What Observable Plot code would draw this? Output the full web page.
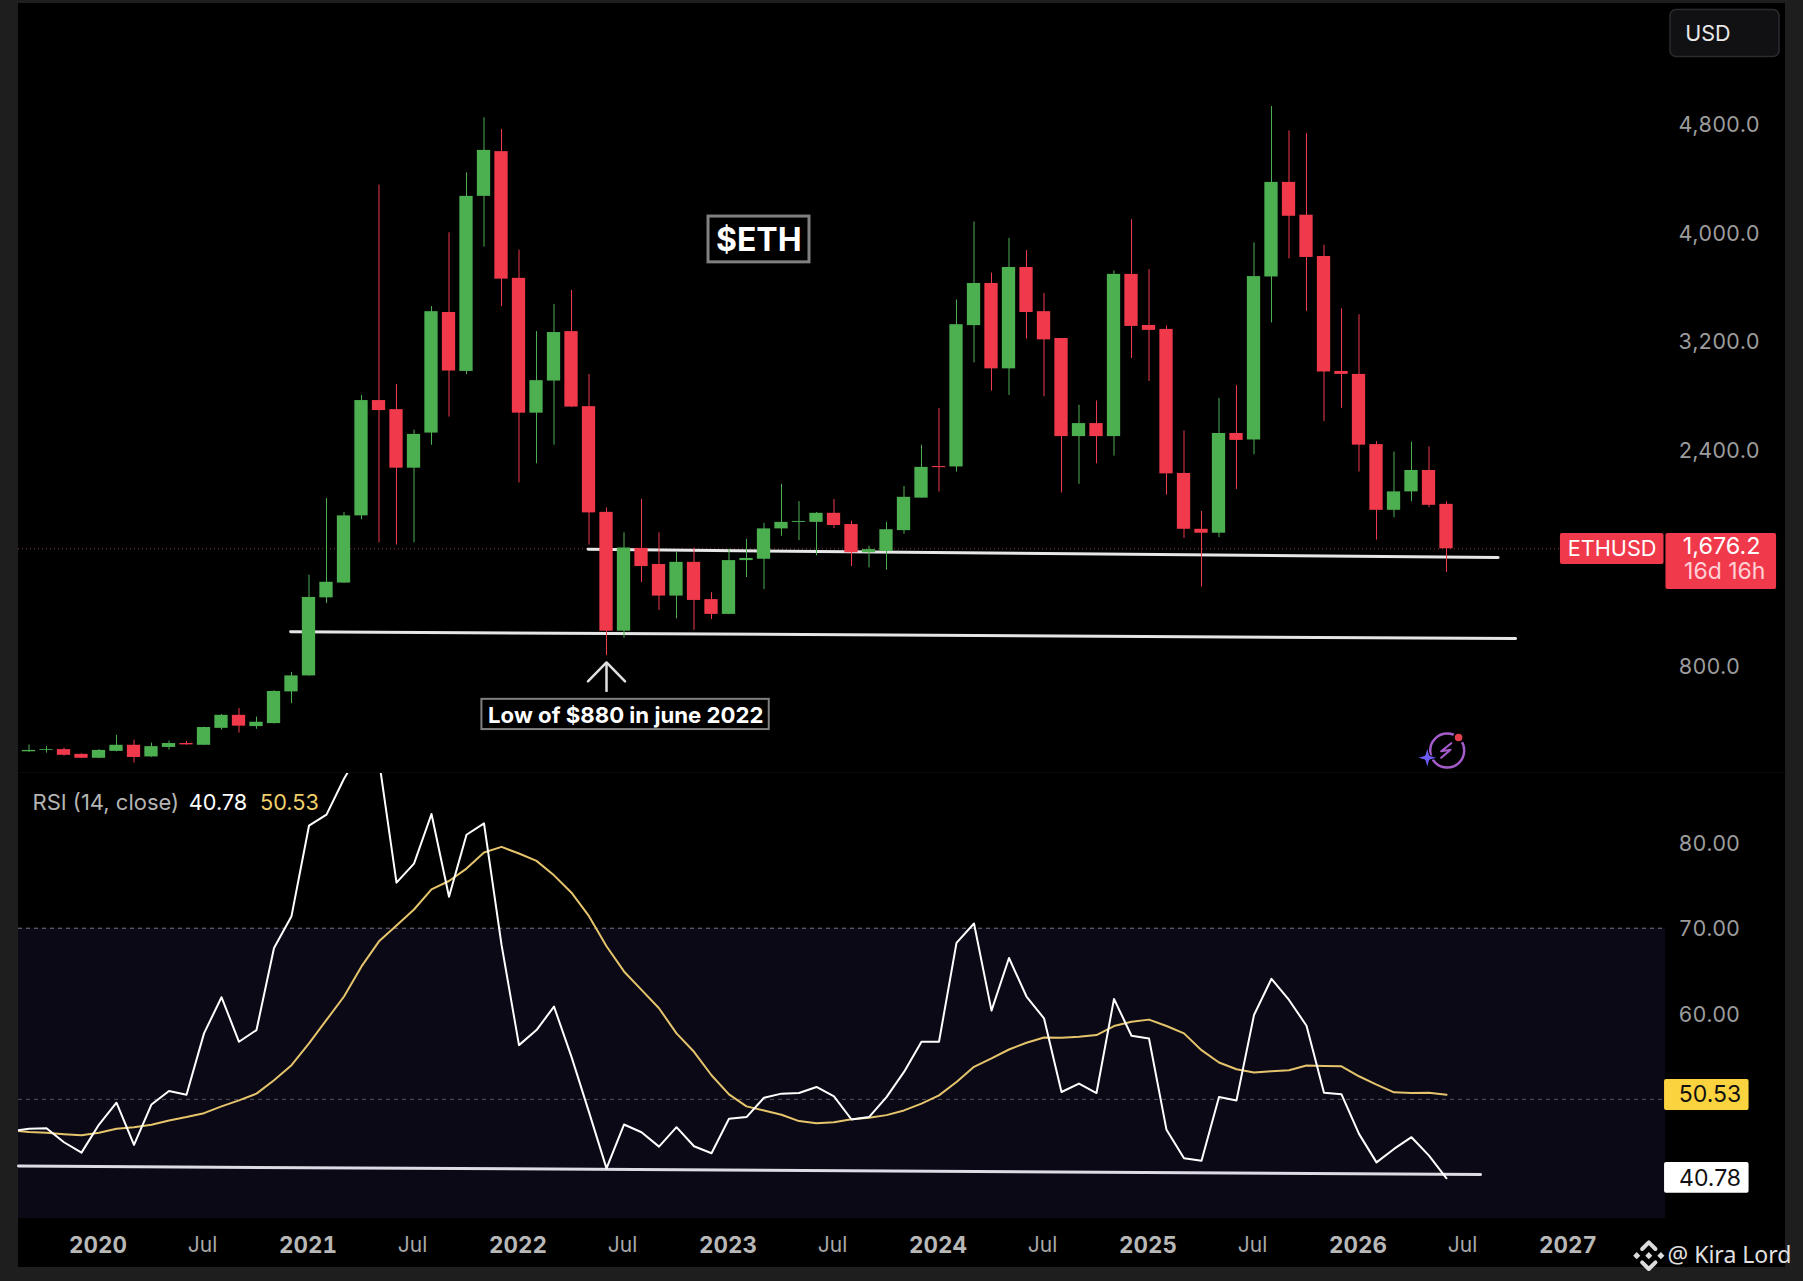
<!DOCTYPE html>
<html><head><meta charset="utf-8">
<style>
html,body{margin:0;padding:0;background:#1e1e1e;overflow:hidden;width:1803px;height:1281px}
#wrap{position:relative;width:1803px;height:1281px}
#inner{position:absolute;left:18px;top:3px;width:1767px;height:1264px;background:#000}
#plots{position:absolute;left:0;top:0;width:1803px}
#plots svg{display:block}
</style>
<script src="https://cdn.jsdelivr.net/npm/d3@7"></script>
<script src="https://cdn.jsdelivr.net/npm/@observablehq/plot@0.6"></script>
</head><body>
<div id="wrap"><div id="inner"></div><div id="plots"></div></div>
<script>
// Months are counted from Jan 2020 = 0; candles run Sep 2019 (-4) .. Jun 2026 (77)
const firstMonth = -4;
const open = [178,188,194,159,
 130,181,226,140,210,239,226,351,447,364,386,620,
 738,1314,1423,1919,2770,2703,2271,2530,3420,2985,4277,4607,
 3672,2677,2914,3279,2725,1945,1068,1679,1560,1327,1576,1301,
 1192,1589,1599,1823,1871,1871,1938,1855,1647,1656,1810,2050,
 2283,2280,3323,3634,3004,3752,3426,3228,2504,2600,2504,3701,
 3324,3295,2232,1820,1791,2527,2479,3682,4380,4138,3833,2985,
 2963,2445,1960,2096,2254,2004];
const close = [188,194,152,130,
 188,226,136,216,239,229,357,447,367,396,623,738,
 1317,1429,1919,2770,2696,2271,2520,3426,2988,4277,4616,3666,
 2677,2917,3272,2722,1941,1068,1682,1545,1327,1576,1295,1192,
 1589,1605,1823,1871,1878,1938,1848,1647,1670,1817,2056,2277,
 2275,3330,3634,3004,3752,3420,3218,2504,2600,2504,3701,3317,
 3288,2229,1820,1791,2527,2476,3685,4380,4130,3826,2981,2963,
 2441,1960,2096,2254,1997,1676];
const high = [229,216,204,162,
 194,300,264,242,258,255,360,453,498,434,629,764,
 1481,2047,1945,2808,4360,2888,2552,3464,4008,4450,4856,4770,
 3880,3279,3480,3583,2962,1977,1794,2040,1794,1650,1682,1352,
 1672,1746,1864,2152,2024,1944,2040,1880,1695,1871,2136,2440,
 2712,3512,4088,3711,3967,3877,3560,3228,2735,2767,3727,4104,
 3736,3320,2546,1951,2786,2880,3934,4940,4760,4740,3917,3447,
 3403,2467,2390,2463,2427,2023];
const low = [172,168,146,128,
 127,178,95,136,191,226,224,338,316,344,383,533,
 736,1272,1420,1890,1720,1704,1720,2440,2648,2962,3903,3464,
 2162,2303,2440,2719,1704,888,1016,1426,1221,1160,1074,1154,
 1190,1464,1375,1768,1736,1624,1826,1545,1535,1519,1784,2050,
 2095,2242,3048,2840,2808,3224,2798,2088,2152,2303,2360,3080,
 2911,2072,1752,1394,1759,2114,2370,3343,3816,3429,2614,2713,
 2243,1740,1905,2023,1979,1501];
// RSI series start one month earlier (-5)
const rsiFirstMonth = -5;
const rsi = [46.28,46.56,46.63,44.99,43.78,
 47.06,49.61,44.68,49.41,50.98,50.55,57.71,61.94,56.73,58.10,67.69,71.41,
 81.98,83.27,87.46,90.98,89.61,75.32,77.55,83.35,73.68,80.92,82.25,68.08,
 56.34,58.10,60.84,54.97,48.51,41.94,47.06,46.16,44.48,46.75,44.52,43.70,
 47.73,47.93,50.20,50.67,50.74,51.45,50.35,47.65,47.93,50.27,53.21,56.73,
 56.73,68.28,70.55,60.37,66.52,62.02,59.47,50.86,51.84,50.74,61.74,57.44,
 57.12,46.44,43.11,42.84,50.27,49.88,59.86,64.09,61.62,58.61,50.78,50.59,
 45.97,42.64,44.21,45.58,43.43,40.78];
const rsiMA = [46.36,46.2,46.09,45.93,45.81,
 46.09,46.56,46.75,47.03,47.53,47.93,48.39,49.18,49.88,50.67,52.23,54.0,
 56.54,59.28,62.02,65.54,68.47,70.31,72.19,74.54,75.52,76.97,78.85,79.51,
 78.73,77.87,76.18,74.15,71.41,67.89,64.95,62.80,60.65,57.71,55.56,52.82,
 50.59,49.18,48.71,48.20,47.46,47.22,47.34,47.69,47.85,48.16,48.71,49.50,
 50.47,52.04,53.80,54.78,55.83,56.62,57.24,57.20,57.32,57.51,58.57,59.08,
 59.32,58.57,57.71,55.75,54.31,53.52,53.13,53.29,53.40,53.95,53.91,53.87,
 52.70,51.72,50.82,50.74,50.78,50.53];
const priceTicks = [800,2400,3200,4000,4800];
const rsiTicks = [60,70,80];
const yearTicks = [0,12,24,36,48,60,72,84];
const yearLabels = ["2020","2021","2022","2023","2024","2025","2026","2027"];
const julTicks = [6,18,30,42,54,66,78];
const priceTrend = [{m:10.95,v:1064},{m:80.95,v:1014}];
const priceTrend2 = [{m:27.95,v:1672},{m:79.95,v:1611}];
const rsiTrend = [{m:-4.6,v:42.21},{m:78.95,v:41.23}];

const GREEN="#4caf50", RED="#f03a4c", FONT="Inter, 'Liberation Sans', sans-serif";
const XDOM=[-4.6,89.514], WIDTH=1803;
const candles = open.map((o,i)=>({m:firstMonth+i,o,c:close[i],h:high[i],l:low[i],col:close[i]>=o?GREEN:RED}));
const rsiRows = rsi.map((v,i)=>({m:rsiFirstMonth+i,v}));
const maRows = rsiMA.map((v,i)=>({m:rsiFirstMonth+i,v}));
const box = (x1,x2,y1,y2,o)=>Plot.rect([{x1,x2,y1,y2}],{x1:"x1",x2:"x2",y1:"y1",y2:"y2",...o});
const txt = (m,v,t,o)=>Plot.text([{m,v,t}],{x:"m",y:"v",text:"t",fontFamily:FONT,...o});
const sparkle = {draw(c,size){const R=Math.sqrt(size/Math.PI),k=R*0.22;
  c.moveTo(0,-R);c.lineTo(k,-k);c.lineTo(R,0);c.lineTo(k,k);c.lineTo(0,R);c.lineTo(-k,k);c.lineTo(-R,0);c.lineTo(-k,-k);c.closePath();}};

const main = Plot.plot({
  width:WIDTH,height:773,marginLeft:18,marginRight:138,marginTop:4,marginBottom:1,
  style:{background:"transparent",fontFamily:FONT},
  x:{type:"linear",domain:XDOM,axis:null},
  y:{type:"linear",domain:[25.1,5692.9],axis:null},
  marks:[
    Plot.ruleY([1676.2],{stroke:"#8a3a40",strokeWidth:1,strokeDasharray:"1,3"}),
    Plot.line(priceTrend,{x:"m",y:"v",stroke:"#e6e6e6",strokeWidth:3}),
    Plot.line(priceTrend2,{x:"m",y:"v",stroke:"#e6e6e6",strokeWidth:3}),
    Plot.ruleX(candles,{x:"m",y1:"l",y2:"h",stroke:"col",strokeWidth:1}),
    Plot.rect(candles,{x1:d=>d.m-0.38,x2:d=>d.m+0.38,y1:"o",y2:"c",fill:"col"}),
    Plot.axisY({anchor:"right",ticks:priceTicks,tickFormat:d3.format(",.1f"),tickSize:0,tickPadding:13,fontSize:21.5,color:"#9c9c9c",label:null}),
    // $ETH label
    box(34.83,40.6,3790,4128,{fill:"#000",stroke:"#808080",strokeWidth:3}),
    txt(37.7,3950,"$ETH",{fill:"#fff",fontSize:32,fontWeight:"bold"}),
    // low annotation
    Plot.ruleX([{m:29.0,a:616,b:837}],{x:"m",y1:"a",y2:"b",stroke:"#e0e0e0",strokeWidth:2.5}),
    Plot.line([{m:27.94,v:697},{m:29.0,v:837},{m:30.06,v:697}],{x:"m",y:"v",stroke:"#e0e0e0",strokeWidth:2.5}),
    box(21.88,38.3,342,565,{fill:"#000",stroke:"#808080",strokeWidth:2}),
    txt(30.1,445,"Low of $880 in june 2022",{fill:"#fff",fontSize:22.2,fontWeight:"bold"}),
    // USD button
    box(89.8,96.03,5306,5652,{fill:"#111114",stroke:"#2c2c30",strokeWidth:1.5,rx:6}),
    txt(90.64,5472,"USD",{fill:"#e8e8e8",fontSize:21.5,textAnchor:"start"}),
    // price tags
    box(83.51,89.43,1560,1789,{fill:RED,rx:2}),
    txt(86.46,1671,"ETHUSD",{fill:"#fff",fontSize:21.7}),
    box(89.54,95.86,1376,1789,{fill:RED,rx:2}),
    txt(92.72,1693,"1,676.2",{fill:"#fff",fontSize:23.4}),
    txt(92.9,1510,"16d 16h",{fill:"#ffd0d5",fontSize:23}),
    // lightning badge
    Plot.dot([{m:77.04,v:187}],{x:"m",y:"v",r:17,stroke:"#a35cc9",strokeWidth:2.5,fill:"none"}),
    Plot.line([{m:77.27,v:241},{m:76.7,v:182},{m:77.23,v:193},{m:76.7,v:134}],{x:"m",y:"v",stroke:"#a35cc9",strokeWidth:2.2}),
    Plot.dot([{m:75.9,v:134}],{x:"m",y:"v",symbol:sparkle,r:10.5,fill:"#6c5cf5",stroke:"#000",strokeWidth:1}),
    Plot.dot([{m:77.69,v:283}],{x:"m",y:"v",r:4.8,fill:"#e2404f",stroke:"#000",strokeWidth:2}),
    // separator
    Plot.ruleY([{a:25.1}],{y:"a",dy:1,x1:()=>-4.6,x2:()=>96.4,stroke:"#262626",strokeWidth:1.5})
  ]
});

const binanceDots = [{m:88.56,v:31.74},{m:87.87,v:31.74},{m:89.25,v:31.74}];
const chevronUp = [{m:88.18,v:32.52},{m:88.56,v:33.3},{m:88.94,v:32.52}];
const chevronDown = [{m:88.18,v:30.96},{m:88.56,v:30.18},{m:88.94,v:30.96}];
const lower = Plot.plot({
  width:WIDTH,height:508,marginLeft:18,marginRight:138,marginTop:0,marginBottom:63,
  style:{background:"transparent",fontFamily:FONT},
  x:{type:"linear",domain:XDOM,axis:null},
  y:{type:"linear",domain:[36.08,88.08],axis:null},
  marks:[
    Plot.rectY([{a:36.08,b:70}],{y1:"a",y2:"b",fill:"#0b0916"}),
    Plot.ruleY([70],{stroke:"#77777f",strokeWidth:1,strokeDasharray:"4,4"}),
    Plot.ruleY([50],{stroke:"#55555c",strokeWidth:1,strokeDasharray:"4,4"}),
    Plot.line(rsiTrend,{x:"m",y:"v",stroke:"#dcdce4",strokeWidth:3}),
    Plot.line(maRows,{x:"m",y:"v",stroke:"#e5c46c",strokeWidth:2,clip:true}),
    Plot.line(rsiRows,{x:"m",y:"v",stroke:"#ffffff",strokeWidth:2,clip:true}),
    Plot.axisY({anchor:"right",ticks:rsiTicks,tickFormat:d3.format(".2f"),tickSize:0,tickPadding:13,fontSize:21.5,dy:1,color:"#9c9c9c",label:null}),
    Plot.axisX({ticks:yearTicks,tickFormat:d=>yearLabels[yearTicks.indexOf(d)],tickSize:0,tickPadding:19,fontSize:22.4,dx:-1,fontWeight:"bold",color:"#b8b8b8",label:null}),
    Plot.axisX({ticks:julTicks,tickFormat:()=>"Jul",tickSize:0,tickPadding:19,fontSize:21,dx:-1.5,color:"#a8a8a8",label:null}),
    txt(-3.8,84.58,"RSI (14, close)",{fill:"#b4b4b4",fontSize:22,textAnchor:"start"}),
    txt(5.13,84.58,"40.78",{fill:"#fff",fontSize:21.7,textAnchor:"start"}),
    txt(9.2,84.58,"50.53",{fill:"#f0cf6a",fontSize:21.7,textAnchor:"start"}),
    box(89.46,94.29,48.69,52.31,{fill:"#fbd33f",rx:2}),
    txt(92.06,50.51,"50.53",{fill:"#111",fontSize:23}),
    box(89.46,94.29,39.02,42.61,{fill:"#fff",rx:2}),
    txt(92.06,40.78,"40.78",{fill:"#111",fontSize:23}),
    Plot.dot(binanceDots,{x:"m",y:"v",symbol:"diamond2",r:3.2,fill:"#dcdcdc"}),
    Plot.line(chevronUp,{x:"m",y:"v",stroke:"#dcdcdc",strokeWidth:4}),
    Plot.line(chevronDown,{x:"m",y:"v",stroke:"#dcdcdc",strokeWidth:4}),
    txt(89.63,31.74,"@ Kira Lord",{fill:"#e0e0e0",fontSize:23,fontFamily:"'Noto Sans', sans-serif",textAnchor:"start"})
  ]
});
document.getElementById("plots").append(main,lower);
</script>
</body></html>
